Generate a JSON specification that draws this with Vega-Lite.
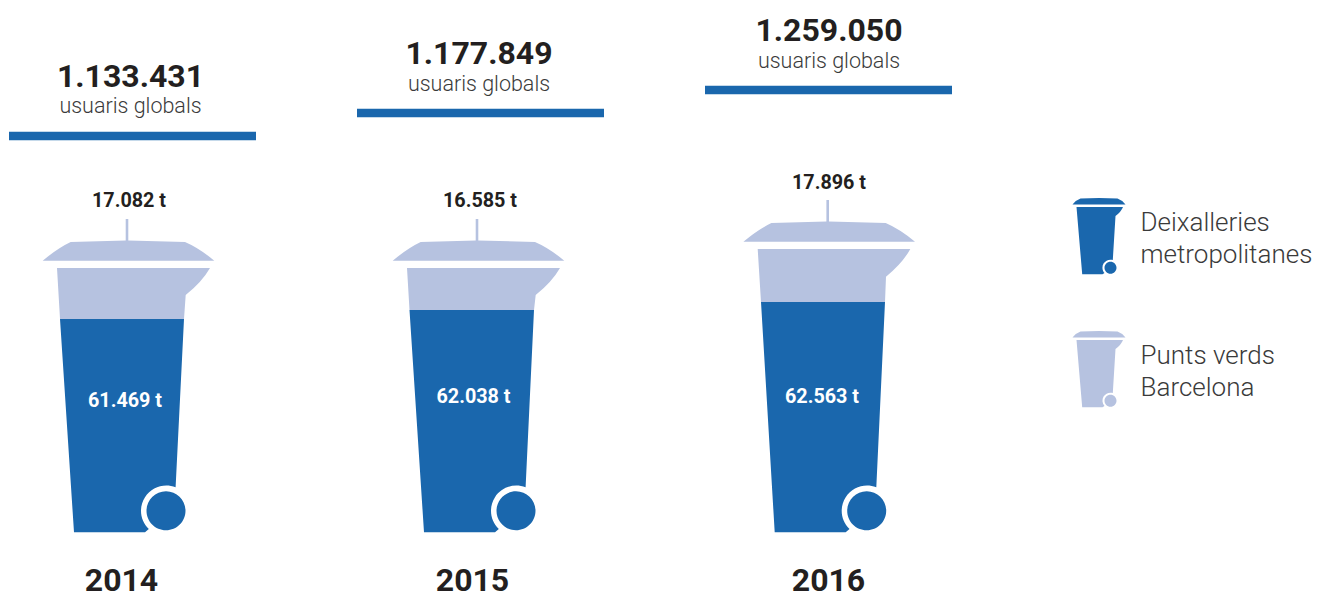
{"$schema":"https://vega.github.io/schema/vega-lite/v6.json","width":1322,"height":592,"padding":0,"autosize":{"type":"none"},"background":"white",
"config":{"view":{"stroke":null},"font":"Roboto","legend":{"symbolType":"M-26.5 -31.5Q-23 -36 -18.5 -37.5L0 -38L18.5 -37.5Q23 -36 26.5 -31.5ZM-22.5 -29L24 -29Q22 -24 16.5 -20L13.8 24A8 8 0 0 0 5.5 37L3.5 38.3L-16.8 38.3ZM5.5 31.7A6 6 0 1 0 17.5 31.7A6 6 0 1 0 5.5 31.7Z"}},
"datasets":{"tones":[
{"any":2014,"tipus":"Deixalleries metropolitanes","tones":61469,"etiqueta":"61.469 t"},
{"any":2015,"tipus":"Deixalleries metropolitanes","tones":62038,"etiqueta":"62.038 t"},
{"any":2016,"tipus":"Deixalleries metropolitanes","tones":62563,"etiqueta":"62.563 t"},
{"any":2014,"tipus":"Punts verds Barcelona","tones":17082,"etiqueta":"17.082 t"},
{"any":2015,"tipus":"Punts verds Barcelona","tones":16585,"etiqueta":"16.585 t"},
{"any":2016,"tipus":"Punts verds Barcelona","tones":17896,"etiqueta":"17.896 t"}],
"usuaris":[
{"any":2014,"usuaris":1133431,"etiqueta":"1.133.431","text":"usuaris globals"},
{"any":2015,"usuaris":1177849,"etiqueta":"1.177.849","text":"usuaris globals"},
{"any":2016,"usuaris":1259050,"etiqueta":"1.259.050","text":"usuaris globals"}]},
"layer":[
{"data":{"name":"tones"},"transform":[{"filter":"datum.tipus=='Deixalleries metropolitanes'"}],
"mark":{"type":"point","filled":true,"opacity":1,"size":4},
"encoding":{"x":{"field":"any","type":"quantitative","axis":null,"scale":{"domain":[2014,2015,2016],"range":[129,479,829.7],"zero":false,"nice":false}},
"y":{"field":"tones","type":"quantitative","axis":null,"scale":{"domain":[61469,62038,62563],"range":[319,310,302],"zero":false,"nice":false}},
"shape":{"field":"any","type":"nominal","legend":null,"scale":{"domain":[2014,2015,2016],"range":[
"M-69 0L55 0L46.6 168.3A25.3 25.3 0 0 0 19.8 210.1L16 213.3L-55 213.3ZM17.5 191.7A19.5 19.5 0 1 0 56.5 191.7A19.5 19.5 0 1 0 17.5 191.7Z",
"M-69.5 0L55 0L46.6 177.3A25.3 25.3 0 0 0 19.8 219.1L16 222.3L-55 222.3ZM17.5 200.7A19.5 19.5 0 1 0 56.5 200.7A19.5 19.5 0 1 0 17.5 200.7Z",
"M-68.7 0L55.3 0L46.6 185.3A25.3 25.3 0 0 0 19.8 227.1L16 230.3L-55 230.3ZM17.5 208.7A19.5 19.5 0 1 0 56.5 208.7A19.5 19.5 0 1 0 17.5 208.7Z"]}},
"color":{"field":"tipus","type":"nominal","scale":{"domain":["Deixalleries metropolitanes","Punts verds Barcelona"],"range":["#1a67ad","#b6c2e0"]},
"legend":{"title":null,"orient":"none","legendX":1086,"legendY":223,"rowPadding":56,"symbolSize":4,"labelOffset":28.5,"labelFontSize":26,"labelLimit":400,"labelFont":"Roboto","labelFontWeight":300,"labelColor":"#3a3a3a","symbolStrokeWidth":0,"labelExpr":"datum.label=='Punts verds Barcelona'?['Punts verds','Barcelona']:split(datum.label,' ')","encoding":{"labels":{"lineHeight":{"value":32},"dy":{"value":-13.5},"dx":{"signal":"datum.value=='Punts verds Barcelona'?5:0"}}}}}}},
{"data":{"name":"tones"},"transform":[{"filter":"datum.tipus=='Punts verds Barcelona'"}],
"mark":{"type":"point","filled":true,"opacity":1,"size":4},
"encoding":{"x":{"field":"any","type":"quantitative","axis":null,"scale":{"domain":[2014,2015,2016],"range":[129,479,829.7],"zero":false,"nice":false}},
"y":{"field":"tones","type":"quantitative","axis":null,"scale":{"domain":[16585,17082,17896],"range":[268,268,249],"zero":false,"nice":false}},
"shape":{"field":"any","type":"nominal","legend":null,"scale":{"domain":[2014,2015,2016],"range":[
"M-72 0L81 0Q73 14 56.7 27L55 51L-69 51ZM-86.3 -7.3Q-71 -20 -58.3 -26L-3.3 -27.5L-3.3 -49L-0.7 -49L-0.7 -27.5L56 -26Q70 -20 85.3 -7.3Z",
"M-72 0L81 0Q73 14 56.7 27L55 42L-69.5 42ZM-86.3 -7.3Q-71 -20 -58.3 -26L-3.3 -27.5L-3.3 -49L-0.7 -49L-0.7 -27.5L56 -26Q70 -20 85.3 -7.3Z",
"M-72 0L80.6 0Q73 14 56.3 27.7L55.3 53L-68.7 53ZM-86.3 -7.3Q-71 -20 -58.3 -26L-3.3 -27.5L-3.3 -49L-0.7 -49L-0.7 -27.5L56 -26Q70 -20 85.3 -7.3Z"]}},
"color":{"field":"tipus","type":"nominal"}}},
{"data":{"name":"tones"},"transform":[{"filter":"datum.tipus=='Deixalleries metropolitanes'"}],
"mark":{"type":"text","font":"Roboto","fontWeight":"bold","fontSize":19.8,"color":"white","baseline":"middle"},
"encoding":{"x":{"field":"any","type":"quantitative","axis":null,"scale":{"domain":[2014,2015,2016],"range":[125,473.5,822],"zero":false,"nice":false}},
"y":{"field":"tones","type":"quantitative","axis":null,"scale":{"domain":[61469,62038,62563],"range":[400.5,396.5,396.5],"zero":false,"nice":false}},
"text":{"field":"etiqueta"}}},
{"data":{"name":"tones"},"transform":[{"filter":"datum.tipus=='Punts verds Barcelona'"}],
"mark":{"type":"text","font":"Roboto","fontWeight":"bold","fontSize":19.8,"color":"#231f20","baseline":"middle"},
"encoding":{"x":{"field":"any","type":"quantitative","axis":null,"scale":{"domain":[2014,2015,2016],"range":[129,480,829],"zero":false,"nice":false}},
"y":{"field":"tones","type":"quantitative","axis":null,"scale":{"domain":[16585,17082,17896],"range":[201,201,183],"zero":false,"nice":false}},
"text":{"field":"etiqueta"}}},
{"data":{"name":"usuaris"},
"mark":{"type":"tick","orient":"horizontal","size":247,"thickness":8.3,"color":"#1a67ad","opacity":1},
"encoding":{"x":{"field":"any","type":"quantitative","axis":null,"scale":{"domain":[2014,2015,2016],"range":[132.5,480.5,828.5],"zero":false,"nice":false}},
"y":{"field":"usuaris","type":"quantitative","axis":null,"scale":{"domain":[1133431,1177849,1259050],"range":[136,113,90],"zero":false,"nice":false}}}},
{"data":{"name":"usuaris"},
"mark":{"type":"text","font":"Roboto","fontWeight":"bold","fontSize":32,"color":"#231f20","baseline":"middle"},
"encoding":{"x":{"field":"any","type":"quantitative","axis":null,"scale":{"domain":[2014,2015,2016],"range":[130.5,479,829],"zero":false,"nice":false}},
"y":{"field":"usuaris","type":"quantitative","axis":null,"scale":{"domain":[1133431,1177849,1259050],"range":[76.5,53.5,30.5],"zero":false,"nice":false}},
"text":{"field":"etiqueta"}}},
{"data":{"name":"usuaris"},
"mark":{"type":"text","font":"Roboto","fontWeight":300,"fontSize":21.5,"color":"#3a3a3a","baseline":"middle"},
"encoding":{"x":{"field":"any","type":"quantitative","axis":null,"scale":{"domain":[2014,2015,2016],"range":[130.5,479,829],"zero":false,"nice":false}},
"y":{"field":"usuaris","type":"quantitative","axis":null,"scale":{"domain":[1133431,1177849,1259050],"range":[107,85,62],"zero":false,"nice":false}},
"text":{"field":"text"}}},
{"data":{"name":"usuaris"},
"mark":{"type":"text","font":"Roboto","fontWeight":"bold","fontSize":32,"color":"#231f20","baseline":"alphabetic"},
"encoding":{"x":{"field":"any","type":"quantitative","axis":null,"scale":{"domain":[2014,2015,2016],"range":[121.5,472.5,828.5],"zero":false,"nice":false}},
"y":{"field":"any","type":"quantitative","axis":null,"scale":{"domain":[2014,2016],"range":[591,591],"zero":false,"nice":false}},
"text":{"field":"any","type":"nominal"}}}
],
"resolve":{"scale":{"x":"independent","y":"independent","shape":"independent"}}}
